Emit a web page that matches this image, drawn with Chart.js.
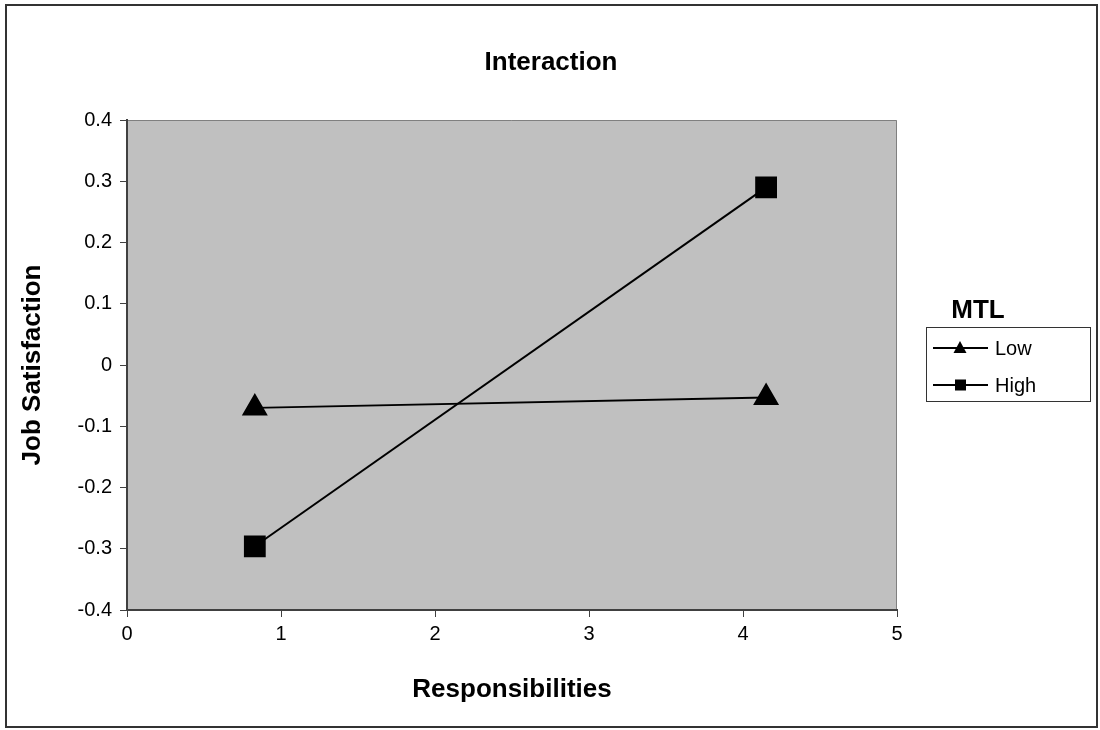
<!DOCTYPE html>
<html>
<head>
<meta charset="utf-8">
<title>Interaction</title>
<script src="https://cdn.jsdelivr.net/npm/chart.js@4.4.1/dist/chart.umd.min.js"></script>
<style>
  html, body { margin: 0; padding: 0; background: #fff; }
  #wrap { width: 1100px; height: 730px; position: relative; }
</style>
</head>
<body>
<div id="wrap"><canvas id="chart"></canvas></div>
<script>
// datos
const responsibilities = [0.83, 4.15];
const lowMTL = [-0.07, -0.053];
const highMTL = [-0.296, 0.29];
const seriesNames = ['Low', 'High'];
const legendTitle = 'MTL';
const xTitle = 'Responsibilities';
const yTitle = 'Job Satisfaction';
const chartTitle = 'Interaction';

const FONT = "'Liberation Sans', Arial, sans-serif";

function toPoints(xs, ys) {
    return xs.map((x, i) => ({ x: x, y: ys[i] }));
}

// fondo gris, marco exterior, titulo y leyenda
const framePlugin = {
    id: 'frame',
    beforeDraw(chart) {
        const { ctx, chartArea: a } = chart;
        ctx.save();
        ctx.fillStyle = '#fff';
        ctx.fillRect(0, 0, chart.width, chart.height);
        ctx.fillStyle = '#c0c0c0';
        ctx.fillRect(a.left, a.top, a.right - a.left, a.bottom - a.top);
        ctx.strokeStyle = '#808080';
        ctx.lineWidth = 1;
        ctx.beginPath();
        ctx.moveTo(a.left, a.top + 0.5);
        ctx.lineTo(a.right - 0.5, a.top + 0.5);
        ctx.lineTo(a.right - 0.5, a.bottom);
        ctx.stroke();
        ctx.restore();
    },
    afterDraw(chart) {
        const ctx = chart.ctx;
        ctx.save();
        // marco exterior
        ctx.strokeStyle = '#333';
        ctx.lineWidth = 2;
        ctx.strokeRect(6, 5, 1091, 722);

        // titulo
        ctx.fillStyle = '#000';
        ctx.font = 'bold 26px ' + FONT;
        ctx.textAlign = 'center';
        ctx.textBaseline = 'middle';
        ctx.fillText(chartTitle, 551, 63);

        // leyenda
        ctx.fillText(legendTitle, 978, 311);

        ctx.strokeStyle = '#333';
        ctx.lineWidth = 1;
        ctx.strokeRect(926.5, 327.5, 164, 74);

        const rows = [348, 385];
        chart.data.datasets.forEach((ds, i) => {
            const y = rows[i];
            ctx.strokeStyle = '#000';
            ctx.lineWidth = 2;
            ctx.beginPath();
            ctx.moveTo(933, y);
            ctx.lineTo(988, y);
            ctx.stroke();
            ctx.fillStyle = '#000';
            if (ds.pointStyle === 'triangle') {
                ctx.beginPath();
                ctx.moveTo(960, y - 7);
                ctx.lineTo(966.5, y + 5);
                ctx.lineTo(953.5, y + 5);
                ctx.closePath();
                ctx.fill();
            } else {
                ctx.fillRect(955, y - 5.5, 11, 11);
            }
            ctx.font = '20px ' + FONT;
            ctx.textAlign = 'left';
            ctx.fillText(ds.label, 995, y + 1);
        });
        ctx.restore();
    }
};

const axisGrid = {
    drawOnChartArea: false,
    drawTicks: true,
    tickLength: 7,
    color: '#404040',
    lineWidth: 1
};

new Chart(document.getElementById('chart'), {
    type: 'scatter',
    data: {
        datasets: [{
            label: seriesNames[0],
            data: toPoints(responsibilities, lowMTL),
            showLine: true,
            borderColor: '#000',
            borderWidth: 2,
            backgroundColor: '#000',
            pointStyle: 'triangle',
            pointRadius: 13,
            pointHoverRadius: 13
        }, {
            label: seriesNames[1],
            data: toPoints(responsibilities, highMTL),
            showLine: true,
            borderColor: '#000',
            borderWidth: 2,
            backgroundColor: '#000',
            pointStyle: 'rect',
            pointRadius: 14,
            pointHoverRadius: 14
        }]
    },
    options: {
        responsive: true,
        maintainAspectRatio: false,
        animation: false,
        layout: { padding: { top: 120, right: 203, bottom: 0, left: 0 } },
        plugins: {
            legend: { display: false },
            tooltip: { enabled: false },
            title: { display: false }
        },
        scales: {
            x: {
                type: 'linear',
                min: 0,
                max: 5,
                ticks: {
                    stepSize: 1,
                    color: '#000',
                    padding: 5,
                    font: { family: FONT, size: 20 }
                },
                grid: axisGrid,
                border: { display: true, color: '#404040', width: 2 },
                title: {
                    display: true,
                    text: xTitle,
                    color: '#000',
                    font: { family: FONT, size: 26, weight: 'bold' },
                    padding: { top: 0, bottom: 25 }
                },
                afterFit(scale) { scale.height = 120; }
            },
            y: {
                type: 'linear',
                min: -0.4,
                max: 0.4,
                ticks: {
                    stepSize: 0.1,
                    color: '#000',
                    padding: 8,
                    font: { family: FONT, size: 20 },
                    callback: v => String(Math.round(v * 10) / 10)
                },
                grid: axisGrid,
                border: { display: true, color: '#404040', width: 2 },
                title: {
                    display: true,
                    text: yTitle,
                    color: '#000',
                    font: { family: FONT, size: 26, weight: 'bold' },
                    padding: { top: 17, bottom: 0 }
                },
                afterFit(scale) { scale.width = 127; }
            }
        }
    },
    plugins: [framePlugin]
});
</script>
</body>
</html>
